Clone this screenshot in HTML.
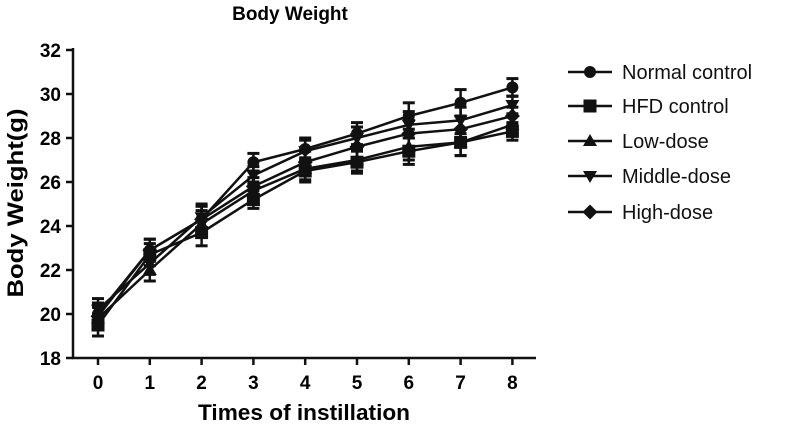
<!DOCTYPE html>
<html><head><meta charset="utf-8"><style>
body{margin:0;background:#fff}
svg{display:block;font-family:"Liberation Sans",Arial,sans-serif}
</style></head><body>
<svg id="chart" width="787" height="426" viewBox="0 0 787 426">
<text x="290" y="20" text-anchor="middle" font-size="19" font-weight="bold">Body Weight</text>
<text transform="translate(23,203) rotate(-90)" text-anchor="middle" font-size="22" font-weight="bold" textLength="189" lengthAdjust="spacingAndGlyphs">Body Weight(g)</text>
<text x="304" y="420" text-anchor="middle" font-size="22" font-weight="bold" textLength="212" lengthAdjust="spacingAndGlyphs">Times of  instillation</text>
<g id="axes"></g><g id="series"></g><g id="legend"></g>
</svg>
<script>
const categories=[0,1,2,3,4,5,6,7,8];
const yTicks=[18,20,22,24,26,28,30,32];
const seriesNames=["Normal control","HFD control","Low-dose","Middle-dose","High-dose"];
const normalControl=[20.0,22.9,24.3,26.9,27.5,28.2,29.0,29.6,30.3];
const hfdControl=[19.5,22.7,23.7,25.2,26.5,26.9,27.4,27.8,28.3];
const lowDose=[19.8,22.0,24.1,25.6,26.6,27.0,27.6,27.8,28.6];
const middleDose=[20.2,22.3,24.4,26.3,27.4,28.0,28.6,28.8,29.5];
const highDose=[19.9,22.9,24.3,25.8,26.9,27.6,28.2,28.4,29.0];
const errors=[0.5,0.5,0.6,0.4,0.5,0.5,0.6,0.6,0.4];
const markers=["circle","square","up","down","diamond"];
const NS="http://www.w3.org/2000/svg";
const xS=v=>98+v*51.8, yS=v=>358-(v-18)*22;
function mk(t,a,p){const e=document.createElementNS(NS,t);for(const k in a)e.setAttribute(k,a[k]);p.appendChild(e);return e;}
const ax=document.getElementById('axes');
let l=mk('line',{x1:73,y1:48,x2:73,y2:358,stroke:'#111','stroke-width':2.5},ax);


l=mk('line',{x1:72,y1:358,x2:536,y2:358,stroke:'#111','stroke-width':2.5},ax);


yTicks.forEach(v=>{mk('line',{x1:66,x2:73,y1:yS(v),y2:yS(v),stroke:'#111','stroke-width':2.5},ax);
const t=mk('text',{x:61,y:yS(v)+7,'text-anchor':'end','font-size':19,'font-weight':'bold'},ax);t.textContent=v;

});
categories.forEach(c=>{mk('line',{x1:xS(c),x2:xS(c),y1:358,y2:365,stroke:'#111','stroke-width':2.5},ax);
const t=mk('text',{x:xS(c),y:389,'text-anchor':'middle','font-size':19,'font-weight':'bold'},ax);t.textContent=c;

});
function marker(type,x,y,p){const s=6.5;
if(type==='circle')return mk('circle',{cx:x,cy:y,r:6},p);
if(type==='square')return mk('rect',{x:x-s,y:y-s,width:2*s,height:2*s},p);
if(type==='up')return mk('polygon',{points:`${x},${y-7} ${x+7},${y+5} ${x-7},${y+5}`},p);
if(type==='down')return mk('polygon',{points:`${x},${y+7} ${x+7},${y-5} ${x-7},${y-5}`},p);
return mk('polygon',{points:`${x},${y-7.5} ${x+7.5},${y} ${x},${y+7.5} ${x-7.5},${y}`},p);}
const all=[normalControl,hfdControl,lowDose,middleDose,highDose];
const sg=document.getElementById('series');
all.forEach((d,i)=>{const g=mk('g',{fill:'#111',stroke:'#111'},sg);


mk('polyline',{points:d.map((v,j)=>xS(categories[j])+','+yS(v)).join(' '),fill:'none','stroke-width':2.5},g);
d.forEach((v,j)=>{const x=xS(categories[j]);const e=errors[j];
mk('line',{x1:x,x2:x,y1:yS(v-e),y2:yS(v+e),'stroke-width':2.5},g);
mk('line',{x1:x-6,x2:x+6,y1:yS(v+e),y2:yS(v+e),'stroke-width':3},g);
mk('line',{x1:x-6,x2:x+6,y1:yS(v-e),y2:yS(v-e),'stroke-width':3},g);
const m=marker(markers[i],x,yS(v),g);m.setAttribute('stroke','none');});});
const lg=document.getElementById('legend');
const ly=[72,106,141,176,212];
seriesNames.forEach((n,i)=>{const g=mk('g',{fill:'#111',stroke:'#111'},lg);


mk('line',{x1:568,x2:612,y1:ly[i],y2:ly[i],'stroke-width':2.5},g);
const m=marker(markers[i],590,ly[i],g);m.setAttribute('stroke','none');
const t=mk('text',{x:622,y:ly[i]+7,'font-size':20,stroke:'none'},g);t.textContent=n;});
</script>
</body></html>
